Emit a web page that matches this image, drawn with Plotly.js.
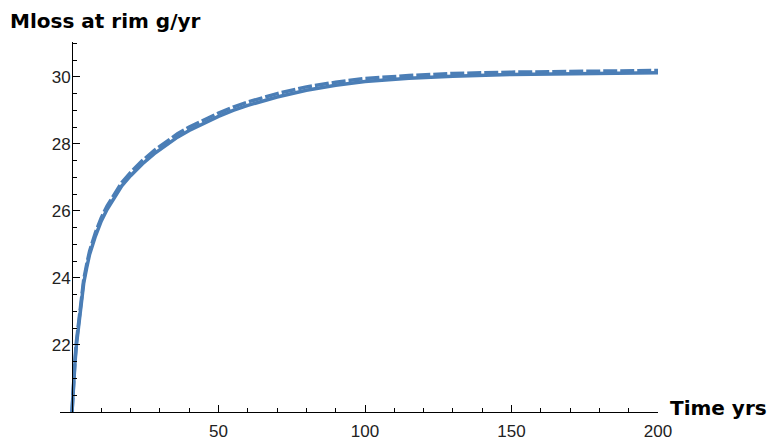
<!DOCTYPE html>
<html>
<head>
<meta charset="utf-8">
<script src="https://cdn.plot.ly/plotly-3.0.1.min.js"></script>
<style>html,body{margin:0;padding:0;background:#fff;} #chart{width:770px;height:440px;}</style>
</head>
<body>
<div id="chart"></div>
<script>
// Time in years
const timeYrs = [0, 0.25, 0.5, 1, 1.5, 2, 3, 4, 5, 6, 8, 10, 12, 14, 17, 20, 24, 28, 32, 36, 40, 45, 50, 55, 60, 70, 80, 90, 100, 115, 130, 150, 175, 200];
// Mass loss at rim (g/yr), solid curve
const mlossSolid = [20.0, 20.45, 20.8, 21.45, 22.0, 22.4, 23.2, 23.85, 24.3, 24.7, 25.25, 25.7, 26.05, 26.35, 26.75, 27.05, 27.4, 27.7, 27.95, 28.2, 28.4, 28.62, 28.82, 29.0, 29.15, 29.4, 29.6, 29.75, 29.86, 29.96, 30.02, 30.07, 30.1, 30.12];
// Mass loss at rim (g/yr), dashed curve
const mlossDashed = [20.0, 20.5, 20.9, 21.55, 22.1, 22.5, 23.3, 23.95, 24.4, 24.8, 25.35, 25.8, 26.15, 26.45, 26.85, 27.15, 27.5, 27.8, 28.05, 28.3, 28.5, 28.72, 28.92, 29.1, 29.25, 29.5, 29.7, 29.84, 29.95, 30.04, 30.1, 30.14, 30.17, 30.19];
const xTickVals = [50, 100, 150, 200];
const yTickVals = [22, 24, 26, 28, 30];

const lineColor = '#4b7eb6';
const traces = [
  {x: timeYrs, y: mlossSolid, mode: 'lines', line: {color: lineColor, width: 3.5}, hoverinfo: 'skip', cliponaxis: false},
  {x: timeYrs, y: mlossDashed, mode: 'lines', line: {color: lineColor, width: 3.5, dash: '14px,3px'}, hoverinfo: 'skip', cliponaxis: false}
];

const tickFont = {family: '"Liberation Sans", Arial, sans-serif', size: 17, color: '#222'};
const titleFont = {family: '"DejaVu Sans", sans-serif', size: 20, color: '#000', weight: 'bold'};

const layout = {
  width: 770, height: 440,
  margin: {l: 60, r: 112, t: 42, b: 28, pad: 0},
  paper_bgcolor: '#fff', plot_bgcolor: '#fff',
  showlegend: false,
  xaxis: {
    range: [-4.1, 200], showgrid: false, zeroline: false,
    showline: true, linecolor: '#000', linewidth: 1.2,
    tickmode: 'array', tickvals: xTickVals, ticks: 'inside', ticklen: 7, tickwidth: 1, tickcolor: '#000',
    ticklabelstandoff: 3,
    minor: {tickmode: 'linear', tick0: 0, dtick: 10, ticks: 'inside', ticklen: 4, tickcolor: '#000', tickwidth: 1, showgrid: false},
    tickfont: tickFont
  },
  yaxis: {
    range: [20, 31.04], showgrid: false, zeroline: false,
    anchor: 'free', position: 12/598,
    showline: true, linecolor: '#000', linewidth: 1.2,
    tickmode: 'array', tickvals: yTickVals, ticks: 'inside', ticklen: 7, tickwidth: 1, tickcolor: '#000',
    ticklabelstandoff: -2,
    minor: {tickmode: 'linear', tick0: 20, dtick: 0.5, ticks: 'inside', ticklen: 4, tickcolor: '#000', tickwidth: 1, showgrid: false},
    tickfont: tickFont
  },
  title: {
    text: 'Mloss at rim g/yr', font: titleFont,
    xref: 'container', yref: 'container', x: 10/770, xanchor: 'left', y: 1 - 21/440, yanchor: 'middle'
  },
  annotations: [
    {text: 'Time yrs', font: titleFont, xref: 'paper', yref: 'paper', x: (668-60)/598, xanchor: 'left', y: 4/370, yanchor: 'middle', showarrow: false}
  ]
};

Plotly.newPlot('chart', traces, layout, {staticPlot: true, displayModeBar: false});
</script>
</body>
</html>
